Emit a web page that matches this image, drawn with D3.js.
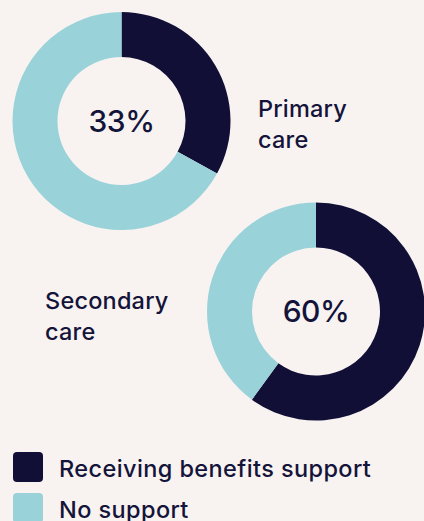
<!DOCTYPE html>
<html>
<head>
<meta charset="utf-8">
<script src="https://cdn.jsdelivr.net/npm/d3@7"></script>
<style>
  html, body { margin: 0; padding: 0; background: #f8f3f1; }
  svg { display: block; }
  text { font-family: Inter, "Noto Sans", sans-serif; fill: #14133a; font-weight: 500; }
</style>
</head>
<body>
<svg id="chart" width="424" height="521"></svg>
<script>
// Share of patients receiving benefits support, by care setting
const careSettings = ["Primary care", "Secondary care"];
const supportedPct = [33, 60];
const seriesNames = ["Receiving benefits support", "No support"];
const seriesColors = ["#110f36", "#9ad2d9"];

const svg = d3.select("#chart");

const color = d3.scaleOrdinal().domain(seriesNames).range(seriesColors);

// Layout for each donut: centre, and where its name sits
const layout = [
  { cx: 121.5, cy: 121, labelX: 258, labelY: 117 },
  { cx: 316, cy: 311.5, labelX: 45, labelY: 309 }
];

const outerR = 109, innerR = 64;
const pie = d3.pie().sort(null).value(d => d.value);
const arc = d3.arc().innerRadius(innerR).outerRadius(outerR);

careSettings.forEach((name, i) => {
  const pos = layout[i];
  const data = [
    { key: seriesNames[0], value: supportedPct[i] },
    { key: seriesNames[1], value: 100 - supportedPct[i] }
  ];
  const g = svg.append("g").attr("transform", `translate(${pos.cx},${pos.cy})`);
  g.selectAll("path")
    .data(pie(data))
    .join("path")
    .attr("d", arc)
    .attr("fill", d => color(d.data.key));

  g.append("text")
    .attr("text-anchor", "middle")
    .attr("dy", "0.35em")
    .attr("font-size", 30)
    .attr("letter-spacing", -0.5)
    .text(supportedPct[i] + "%");

  const words = name.split(" ");
  const lbl = svg.append("text")
    .attr("x", pos.labelX)
    .attr("y", pos.labelY)
    .attr("font-size", 23.5)
    .attr("letter-spacing", 0.2);
  words.forEach((w, j) => {
    lbl.append("tspan")
      .attr("x", pos.labelX)
      .attr("dy", j === 0 ? 0 : 31)
      .text(w);
  });
});

// Legend
const legend = svg.append("g").attr("transform", "translate(13,452)");
const rows = legend.selectAll("g")
  .data(seriesNames)
  .join("g")
  .attr("transform", (d, i) => `translate(0,${i * 41})`);
rows.append("rect")
  .attr("width", 30).attr("height", 30)
  .attr("rx", 4).attr("ry", 4)
  .attr("fill", d => color(d));
rows.append("text")
  .attr("x", 46)
  .attr("y", 25)
  .attr("font-size", 23.5)
  .attr("letter-spacing", 0.4)
  .text(d => d);
</script>
</body>
</html>
